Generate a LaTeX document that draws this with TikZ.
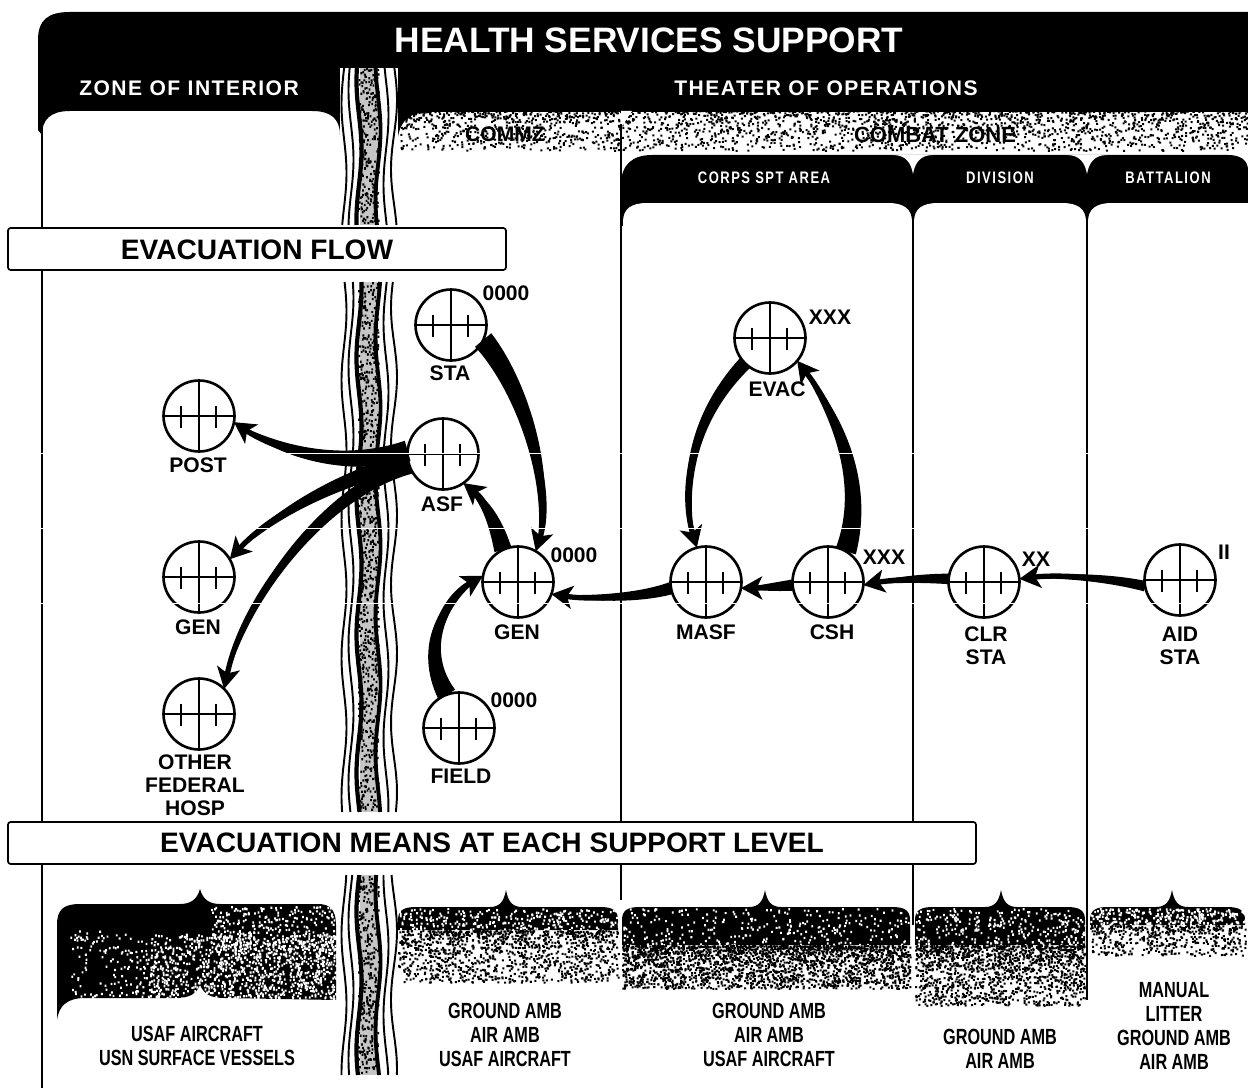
\documentclass[tikz,border=0pt]{standalone}
\usepackage{fontspec}
\setmainfont{Liberation Sans}
\newfontfamily\widefont[LetterSpace=7]{Liberation Sans}
\newfontfamily\narrowfont[FakeStretch=0.74]{Liberation Sans}
\newfontfamily\headfont[FakeStretch=0.78,LetterSpace=9]{Liberation Sans}
\usetikzlibrary{arrows.meta,calc}
\tikzset{
	hosp/.style={circle,draw,fill=white,line width=1.5pt,minimum size=1.42cm,inner sep=0pt,outer sep=0pt,
		path picture={
			\draw[line width=1.2pt] (path picture bounding box.north) -- (path picture bounding box.south);
			\draw[line width=1.2pt] (path picture bounding box.west) -- (path picture bounding box.east);
			\draw[line width=1.1pt] (path picture bounding box.center) ++(-18,-10) -- ++(0,22);
			\draw[line width=1.1pt] (path picture bounding box.center) ++(17,-10) -- ++(0,22);
		}},
	place/.style={font=\fontsize{12}{13}\selectfont\bfseries,align=center,inner sep=0pt},
	echelon/.style={font=\fontsize{12}{13}\selectfont\bfseries,inner sep=0pt},
	panelhead/.style={font=\fontsize{12}{13}\widefont\bfseries,text=white,inner sep=0pt},
	armhead/.style={font=\fontsize{9.5}{10}\headfont\bfseries,text=white,inner sep=0pt},
	means/.style={font=\fontsize{12.5}{13.6}\narrowfont\bfseries,align=center,inner sep=0pt},
	banner/.style={draw,fill=white,line width=1pt,rounded corners=1.5pt,inner sep=0pt},
	bannertext/.style={font=\fontsize{16}{17}\selectfont\bfseries,inner sep=0pt},
	flowline/.style={line width=3pt,->,>={Stealth[length=12pt,width=13pt,inset=3pt]}},
}
\newcommand{\speck}[6]{%
	\pgfmathtruncatemacro\nb{#5/40}
	\foreach \j in {1,...,\nb}
		\fill[#6] \foreach \i in {1,...,40} {({#1+(#2-#1)*rnd},{#3+(#4-#3)*rnd^1.5}) rectangle ++(2,2)};
}
\newcommand{\speckflat}[6]{%
	\pgfmathtruncatemacro\nb{#5/40}
	\foreach \j in {1,...,\nb}
		\fill[#6] \foreach \i in {1,...,40} {({#1+(#2-#1)*rnd},{#3+(#4-#3)*rnd}) rectangle ++(1.8,2.2)};
}
\newcommand{\flow}[5]{%
	\fill ($(#1)!#5!90:(#3)$) .. controls ($(#3)!0.8*#5!90:(#4)$) and ($(#4)!0.5*#5!90:(#2)$) .. (#2)
		.. controls ($(#4)!0.5*#5!-90:(#2)$) and ($(#3)!0.8*#5!-90:(#4)$) .. ($(#1)!#5!-90:(#3)$) -- cycle;
	\draw[flowline] (#1) .. controls (#3) and (#4) .. (#2);
}
\begin{document}
\begin{tikzpicture}[x=0.02cm,y=-0.02cm]
	\pgfmathsetseed{4711}
	\path[use as bounding box,clip] (0,0) rectangle (1248,1088);
	\fill[white] (0,0) rectangle (1248,1088);
	% top band
	\fill (38,130) -- (38,40) .. controls (38,20) and (48,12) .. (70,12) -- (1248,12) -- (1248,112) -- (430,112)
		.. controls (405,112) and (397,125) .. (397,150) -- (340,150) -- (340,135)
		.. controls (340,118) and (330,111) .. (312,111) -- (70,111) .. controls (50,111) and (42,120) .. (42,135) -- cycle;
	\speck{400}{1248}{110}{150}{2400}{black}
	\fill[white] (621,111) -- (632,111) -- (622,126) -- cycle;
	\draw[line width=1.3pt] (42,120) -- (42,1088);
	% arm headers
	\fill (621,220) -- (621,185) .. controls (621,165) and (632,155) .. (652,155) -- (1228,155)
		.. controls (1240,155) and (1248,160) .. (1248,170) -- (1248,226) -- (621,226) -- cycle;
	\foreach \xa in {913,1087}
		\fill[white] ({\xa-20},155) .. controls ({\xa-8},155) and ({\xa-2},162) .. (\xa,174) .. controls ({\xa+2},162) and ({\xa+8},155) .. ({\xa+20},155) -- cycle;
	\foreach \xa/\xb in {623/912,914/1086,1088/1270}
		\fill[white] (\xa,245) -- (\xa,222) .. controls (\xa,209) and ({\xa+8},203) .. ({\xa+24},203) -- ({\xb-24},203) .. controls ({\xb-8},203) and (\xb,209) .. (\xb,222) -- (\xb,245) -- cycle;
	\draw[line width=1pt] (621,124) -- (621,900);
	\draw[line width=1pt] (913,215) -- (913,925);
	\draw[line width=1pt] (1087,215) -- (1087,1000);
	% means bands
	\fill (57,1020) -- (57,925) .. controls (57,910) and (63,904) .. (80,904) -- (180,904) .. controls (190,904) and (197,900) .. (200,889)
		.. controls (203,900) and (210,904) .. (220,904) -- (318,904) .. controls (330,904) and (336,910) .. (336,925) -- (336,1000) -- (225,998)
		.. controls (210,998) and (204,994) .. (200,985) .. controls (196,994) and (190,998) .. (175,998) -- (85,998) .. controls (68,998) and (59,1005) .. (57,1020) -- cycle;
	\speckflat{70}{336}{930}{998}{500}{white}
	\speckflat{150}{336}{935}{998}{800}{white}
	\speckflat{210}{336}{906}{950}{300}{white}
	\foreach \xa/\xb/\xc/\ya/\yb/\n in {398/618/506/930/982/1300,622/910/765/945/988/2400,915/1085/1001/945/1005/1500,1090/1245/1172/925/955/500} {
		\fill (\xa,\ya) -- (\xa,920) .. controls (\xa,910) and ({\xa+6},907) .. ({\xa+18},907) -- ({\xc-16},907) .. controls ({\xc-6},907) and ({\xc-2},901) .. (\xc,890)
			.. controls ({\xc+2},901) and ({\xc+6},907) .. ({\xc+16},907) -- ({\xb-18},907) .. controls ({\xb-6},907) and (\xb,910) .. (\xb,920) -- (\xb,\ya) -- cycle;
		\speckflat{\xa}{\xb}{908}{\ya}{300}{white}
		\speck{\xa}{\xb}{\ya}{\yb}{\n}{black}
	}
	% river
	\foreach \ya/\yb in {68/225,282/812,875/1075} {
		\fill[white] (340,\ya) rectangle (398,\yb);
		\fill[gray!45] (360,\ya) rectangle (378,\yb);
		\speckflat{358}{378}{\ya}{\yb-3}{(\yb-\ya)*1.6}{black}
		\foreach \xr/\am/\ph/\lw in {344/2.5/0/1.1pt,351/2.5/35/1.1pt,359/2.5/60/2.4pt,378/2.5/110/2.2pt,386/2.5/150/1.1pt,394/3/190/1.1pt}
			\draw[line width=\lw] plot[domain=\ya:\yb,samples=40,smooth] ({\xr+\am*sin(\x*2.6+\ph)},\x);
	}
	% titles
	\node[font=\fontsize{20.1}{21}\selectfont\bfseries,text=white,inner sep=0pt] (title) at (649,40) {HEALTH SERVICES SUPPORT};
	\node[panelhead] (zoi) at (189,88) {ZONE OF INTERIOR};
	\node[panelhead] (too) at (826,88) {THEATER OF OPERATIONS};
	\node[place] (commz) at (505,134) {COMMZ};
	\node[place,font=\fontsize{12.5}{13}\selectfont\bfseries] (czone) at (935,135) {COMBAT ZONE};
	\node[armhead] (corps) at (764,178) {CORPS SPT AREA};
	\node[armhead] (divn) at (1000,178) {DIVISION};
	\node[armhead] (batt) at (1168,178) {BATTALION};
	% banners
	\path[banner] (8,228) rectangle (506,270);
	\node[bannertext] (flowtxt) at (257,250) {EVACUATION FLOW};
	\path[banner] (8,822) rectangle (976,864);
	\node[bannertext] (meanstxt) at (492,843) {EVACUATION MEANS AT EACH SUPPORT LEVEL};
	% hospitals
	\foreach \nm/\px/\py in {post/199/416,genz/199/577,other/199/714,asf/443/454,sta/451/325,genm/518/582,field/459/728,masf/706/582,csh/828/582,clr/984/582,aid/1180/580,evac/770/338}
		\node[hosp] (\nm) at (\px,\py) {};
	\foreach \nm/\px/\py/\txt in {lpost/198/465/POST,lgenz/198/627/GEN,lother/195/785/{OTHER\\FEDERAL\\HOSP},lasf/442/504/ASF,lsta/450/373/STA,lgenm/517/632/GEN,lfield/461/776/FIELD,lmasf/706/632/MASF,lcsh/832/632/CSH,lclr/986/646/{CLR\\STA},laid/1180/646/{AID\\STA},levac/777/389/EVAC}
		\node[place] (\nm) at (\px,\py) {\txt};
	\foreach \nm/\px/\py/\txt in {esta/506/293/0000,eevac/830/317/XXX,egenm/574/555/0000,ecsh/884/557/XXX,eclr/1036/559/XX,eaid/1224/552/II,efield/514/700/0000}
		\node[echelon] (\nm) at (\px,\py) {\txt};
	% flows
	\flow{asf.175}{post.-10}{340,470}{275,450}{6pt}
	\flow{asf.190}{genz.30}{340,480}{275,510}{5pt}
	\flow{asf.200}{other.45}{330,490}{245,590}{4.5pt}
	\flow{genm.115}{asf.-55}{495,520}{485,500}{5pt}
	\flow{sta.-25}{genm.60}{525,390}{555,490}{6pt}
	\flow{field.110}{genm.170}{420,650}{440,600}{5.5pt}
	\flow{masf.190}{genm.-20}{640,598}{590,600}{3.5pt}
	\flow{csh.185}{masf.-10}{775,587}{760,588}{3.2pt}
	\flow{clr.175}{csh.-5}{920,578}{890,580}{3pt}
	\flow{aid.190}{clr.5}{1110,578}{1060,574}{3pt}
	\flow{csh.60}{evac.-40}{868,480}{835,410}{6pt}
	\flow{evac.-135}{masf.105}{690,420}{680,490}{4pt}
	% means text
	\node[means] (mzoi) at (197,1046) {USAF AIRCRAFT\\USN SURFACE VESSELS};
	\node[means] (mcommz) at (505,1035) {GROUND AMB\\AIR AMB\\USAF AIRCRAFT};
	\node[means] (mcorps) at (769,1035) {GROUND AMB\\AIR AMB\\USAF AIRCRAFT};
	\node[means] (mdiv) at (1000,1049) {GROUND AMB\\AIR AMB};
	\node[means] (mbatt) at (1174,1026) {MANUAL\\LITTER\\GROUND AMB\\AIR AMB};
	\foreach \yl in {453,528,603}
		\draw[white,line width=0.35pt] (0,\yl) -- (1248,\yl);
\end{tikzpicture}
\end{document}
